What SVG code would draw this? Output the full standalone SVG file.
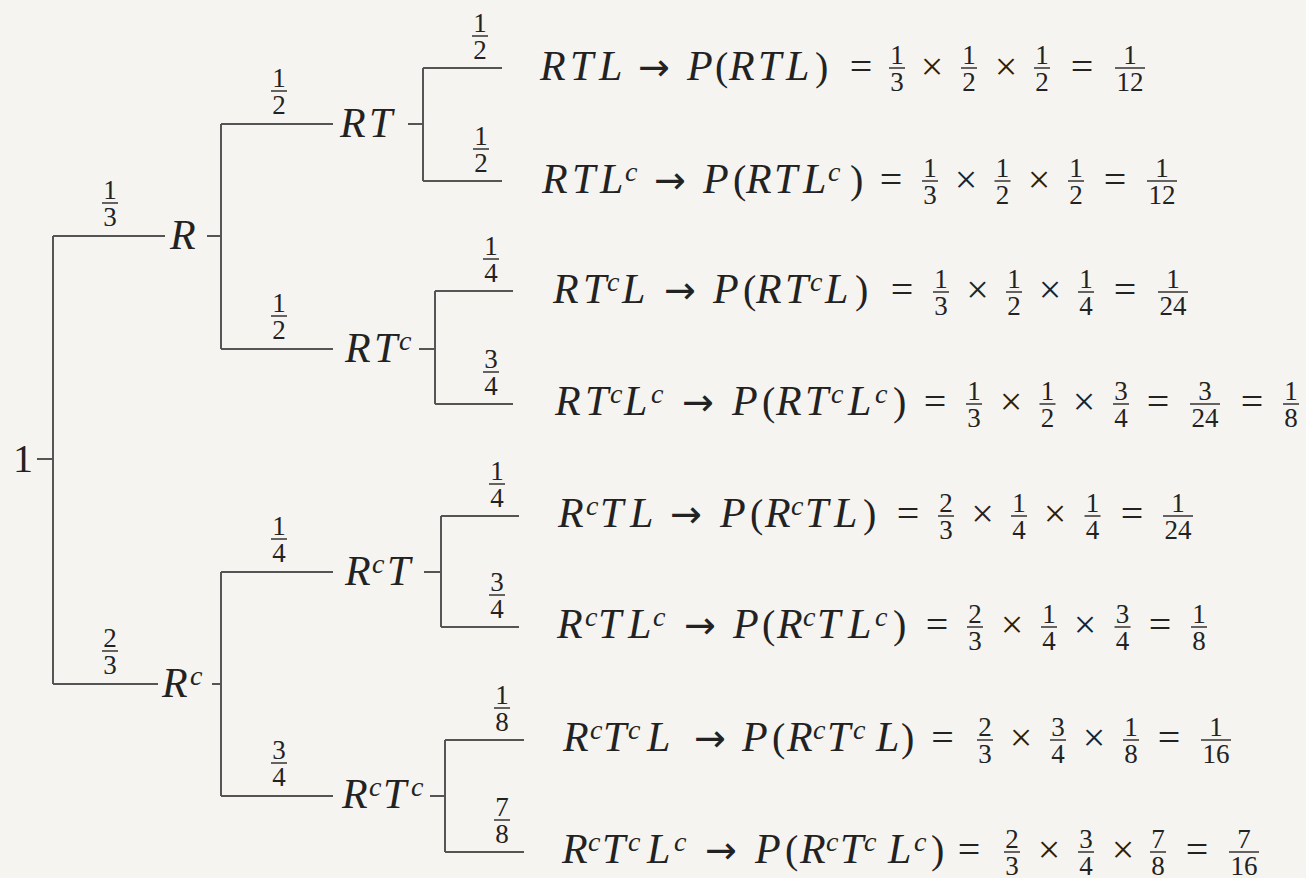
<svg xmlns="http://www.w3.org/2000/svg" width="1306" height="878" viewBox="0 0 1306 878">
<style>
text{fill:#222;font-family:"Liberation Serif","Times New Roman","DejaVu Serif",serif}
.m{font-size:42px;font-style:italic}
.u{font-size:40px}
.c{text-anchor:middle}
.ar{font-family:"DejaVu Sans",sans-serif;font-size:38px;text-anchor:middle}
.s{font-size:28px;font-style:italic}
.fr text{font-size:27px;text-anchor:middle}
.bar{stroke:#333;stroke-width:1.5}
#connectors path{fill:none;stroke:#555;stroke-width:2}
</style>
<defs>
<line id="b1" class="bar" x1="-8" y1="0" x2="8" y2="0" stroke="#333" stroke-width="1.5"/>
<line id="b2" class="bar" x1="-15" y1="0" x2="15" y2="0" stroke="#333" stroke-width="1.5"/>
</defs>
<rect width="1306" height="878" fill="#f5f4f0"/>

<g id="connectors">
<path d="M37 459H53M53 236V684M53 236H165M53 684H158"/>
<path d="M207 236H221M221 124V349M221 124H333M221 349H333"/>
<path d="M212 684H221M221 572V796M221 572H333M221 796H333"/>
<path d="M408 124H423M423 68V181M423 68H502M423 181H502"/>
<path d="M419 349H435M435 291V404M435 291H513M435 404H513"/>
<path d="M424 572H441M441 516V627M441 516H519M441 627H519"/>
<path d="M430 796H445M445 740V852M445 740H524M445 852H524"/>
</g>

<g id="edge-labels">
<g class="fr" transform="translate(110,203)"><text y="-4">1</text><use href="#b1"/><text y="23">3</text></g>
<g class="fr" transform="translate(110,651)"><text y="-4">2</text><use href="#b1"/><text y="23">3</text></g>
<g class="fr" transform="translate(279,91)"><text y="-4">1</text><use href="#b1"/><text y="23">2</text></g>
<g class="fr" transform="translate(279,316)"><text y="-4">1</text><use href="#b1"/><text y="23">2</text></g>
<g class="fr" transform="translate(279,539)"><text y="-4">1</text><use href="#b1"/><text y="23">4</text></g>
<g class="fr" transform="translate(279,763)"><text y="-4">3</text><use href="#b1"/><text y="23">4</text></g>
<g class="fr" transform="translate(480,36)"><text y="-4">1</text><use href="#b1"/><text y="23">2</text></g>
<g class="fr" transform="translate(481,149)"><text y="-4">1</text><use href="#b1"/><text y="23">2</text></g>
<g class="fr" transform="translate(491,259)"><text y="-4">1</text><use href="#b1"/><text y="23">4</text></g>
<g class="fr" transform="translate(491,372)"><text y="-4">3</text><use href="#b1"/><text y="23">4</text></g>
<g class="fr" transform="translate(497,484)"><text y="-4">1</text><use href="#b1"/><text y="23">4</text></g>
<g class="fr" transform="translate(497,595)"><text y="-4">3</text><use href="#b1"/><text y="23">4</text></g>
<g class="fr" transform="translate(502,708)"><text y="-4">1</text><use href="#b1"/><text y="23">8</text></g>
<g class="fr" transform="translate(502,820)"><text y="-4">7</text><use href="#b1"/><text y="23">8</text></g>
</g>

<g id="node-root"><text class="u" x="13" y="472">1</text></g>
<g id="node-R"><text class="m" x="170" y="249">R</text></g>
<g id="node-Rc"><text class="m" x="162" y="697">R</text><text class="s" x="190" y="685">c</text></g>
<g id="node-RT"><text class="m" x="340 369" y="137">RT</text></g>
<g id="node-RTc"><text class="m" x="345 374" y="362">RT</text><text class="s" x="399" y="350">c</text></g>
<g id="node-RcT"><text class="m" x="345 387" y="585">RT</text><text class="s" x="372" y="573">c</text></g>
<g id="node-RcTc"><text class="m" x="342 383" y="808">RT</text><text class="s" x="369 411" y="796">cc</text></g>

<g id="leaf-RTL">
<text class="m" x="540 570 599" y="80">RTL</text>
<text class="ar" x="654" y="80">→</text>
<text class="m" x="687" y="80">P</text><text class="u" x="715" y="80">(</text>
<text class="m" x="729 758 786" y="80">RTL</text><text class="u" x="815" y="80">)</text>
<text class="u c" x="861" y="80">=</text>
<g class="fr" transform="translate(897,68)"><text y="-4">1</text><use href="#b1"/><text y="23">3</text></g>
<text class="u c" x="932" y="80">×</text>
<g class="fr" transform="translate(969,68)"><text y="-4">1</text><use href="#b1"/><text y="23">2</text></g>
<text class="u c" x="1006" y="80">×</text>
<g class="fr" transform="translate(1042,68)"><text y="-4">1</text><use href="#b1"/><text y="23">2</text></g>
<text class="u c" x="1082" y="80">=</text>
<g class="fr" transform="translate(1130,68)"><text y="-4">1</text><use href="#b2"/><text y="23">12</text></g>
</g>

<g id="leaf-RTLc">
<text class="m" x="542 572 600" y="193">RTL</text><text class="s" x="625" y="181">c</text>
<text class="ar" x="670" y="193">→</text>
<text class="m" x="703" y="193">P</text><text class="u" x="733" y="193">(</text>
<text class="m" x="746 774 803" y="193">RTL</text><text class="s" x="828" y="181">c</text><text class="u" x="850" y="193">)</text>
<text class="u c" x="891" y="193">=</text>
<g class="fr" transform="translate(930,181)"><text y="-4">1</text><use href="#b1"/><text y="23">3</text></g>
<text class="u c" x="966" y="193">×</text>
<g class="fr" transform="translate(1002.5,181)"><text y="-4">1</text><use href="#b1"/><text y="23">2</text></g>
<text class="u c" x="1039" y="193">×</text>
<g class="fr" transform="translate(1076,181)"><text y="-4">1</text><use href="#b1"/><text y="23">2</text></g>
<text class="u c" x="1115" y="193">=</text>
<g class="fr" transform="translate(1162,181)"><text y="-4">1</text><use href="#b2"/><text y="23">12</text></g>
</g>

<g id="leaf-RTcL">
<text class="m" x="553 583 622" y="303">RTL</text><text class="s" x="607" y="291">c</text>
<text class="ar" x="680" y="303">→</text>
<text class="m" x="713" y="303">P</text><text class="u" x="743" y="303">(</text>
<text class="m" x="756 785 825" y="303">RTL</text><text class="s" x="810" y="291">c</text><text class="u" x="855" y="303">)</text>
<text class="u c" x="902" y="303">=</text>
<g class="fr" transform="translate(941,292)"><text y="-4">1</text><use href="#b1"/><text y="23">3</text></g>
<text class="u c" x="977.5" y="303">×</text>
<g class="fr" transform="translate(1014,292)"><text y="-4">1</text><use href="#b1"/><text y="23">2</text></g>
<text class="u c" x="1050" y="303">×</text>
<g class="fr" transform="translate(1086,292)"><text y="-4">1</text><use href="#b1"/><text y="23">4</text></g>
<text class="u c" x="1125" y="303">=</text>
<g class="fr" transform="translate(1173,292)"><text y="-4">1</text><use href="#b2"/><text y="23">24</text></g>
</g>

<g id="leaf-RTcLc">
<text class="m" x="555 585 624" y="415">RTL</text><text class="s" x="610 651" y="403">cc</text>
<text class="ar" x="698" y="415">→</text>
<text class="m" x="732" y="415">P</text><text class="u" x="762" y="415">(</text>
<text class="m" x="776 805 848" y="415">RTL</text><text class="s" x="831 875" y="403">cc</text><text class="u" x="893" y="415">)</text>
<text class="u c" x="935" y="415">=</text>
<g class="fr" transform="translate(974,404)"><text y="-4">1</text><use href="#b1"/><text y="23">3</text></g>
<text class="u c" x="1011" y="415">×</text>
<g class="fr" transform="translate(1047.5,404)"><text y="-4">1</text><use href="#b1"/><text y="23">2</text></g>
<text class="u c" x="1084" y="415">×</text>
<g class="fr" transform="translate(1121,404)"><text y="-4">3</text><use href="#b1"/><text y="23">4</text></g>
<text class="u c" x="1158" y="415">=</text>
<g class="fr" transform="translate(1205,404)"><text y="-4">3</text><use href="#b2"/><text y="23">24</text></g>
<text class="u c" x="1252" y="415">=</text>
<g class="fr" transform="translate(1291,404)"><text y="-4">1</text><use href="#b1"/><text y="23">8</text></g>
</g>

<g id="leaf-RcTL">
<text class="m" x="558 600 630" y="527">RTL</text><text class="s" x="586" y="515">c</text>
<text class="ar" x="686" y="527">→</text>
<text class="m" x="720" y="527">P</text><text class="u" x="750" y="527">(</text>
<text class="m" x="765 805 834" y="527">RTL</text><text class="s" x="791" y="515">c</text><text class="u" x="863" y="527">)</text>
<text class="u c" x="908" y="527">=</text>
<g class="fr" transform="translate(946,516)"><text y="-4">2</text><use href="#b1"/><text y="23">3</text></g>
<text class="u c" x="982.5" y="527">×</text>
<g class="fr" transform="translate(1019,516)"><text y="-4">1</text><use href="#b1"/><text y="23">4</text></g>
<text class="u c" x="1055" y="527">×</text>
<g class="fr" transform="translate(1092.5,516)"><text y="-4">1</text><use href="#b1"/><text y="23">4</text></g>
<text class="u c" x="1132" y="527">=</text>
<g class="fr" transform="translate(1178,516)"><text y="-4">1</text><use href="#b2"/><text y="23">24</text></g>
</g>

<g id="leaf-RcTLc">
<text class="m" x="557 598 628" y="638">RTL</text><text class="s" x="585 653" y="626">cc</text>
<text class="ar" x="700" y="638">→</text>
<text class="m" x="733" y="638">P</text><text class="u" x="762" y="638">(</text>
<text class="m" x="777 817 848" y="638">RTL</text><text class="s" x="803 875" y="626">cc</text><text class="u" x="893" y="638">)</text>
<text class="u c" x="937" y="638">=</text>
<g class="fr" transform="translate(975,627)"><text y="-4">2</text><use href="#b1"/><text y="23">3</text></g>
<text class="u c" x="1012" y="638">×</text>
<g class="fr" transform="translate(1049,627)"><text y="-4">1</text><use href="#b1"/><text y="23">4</text></g>
<text class="u c" x="1085" y="638">×</text>
<g class="fr" transform="translate(1122.5,627)"><text y="-4">3</text><use href="#b1"/><text y="23">4</text></g>
<text class="u c" x="1160" y="638">=</text>
<g class="fr" transform="translate(1199,627)"><text y="-4">1</text><use href="#b1"/><text y="23">8</text></g>
</g>

<g id="leaf-RcTcL">
<text class="m" x="563 603 647" y="751">RTL</text><text class="s" x="590 628" y="739">cc</text>
<text class="ar" x="710" y="751">→</text>
<text class="m" x="742" y="751">P</text><text class="u" x="772" y="751">(</text>
<text class="m" x="787 827 876" y="751">RTL</text><text class="s" x="813 853" y="739">cc</text><text class="u" x="901" y="751">)</text>
<text class="u c" x="942.5" y="751">=</text>
<g class="fr" transform="translate(985,740)"><text y="-4">2</text><use href="#b1"/><text y="23">3</text></g>
<text class="u c" x="1021" y="751">×</text>
<g class="fr" transform="translate(1058,740)"><text y="-4">3</text><use href="#b1"/><text y="23">4</text></g>
<text class="u c" x="1094" y="751">×</text>
<g class="fr" transform="translate(1131,740)"><text y="-4">1</text><use href="#b1"/><text y="23">8</text></g>
<text class="u c" x="1169" y="751">=</text>
<g class="fr" transform="translate(1216,740)"><text y="-4">1</text><use href="#b2"/><text y="23">16</text></g>
</g>

<g id="leaf-RcTcLc">
<text class="m" x="562 602 647" y="863">RTL</text><text class="s" x="588 628 674" y="851">ccc</text>
<text class="ar" x="721" y="863">→</text>
<text class="m" x="755" y="863">P</text><text class="u" x="785" y="863">(</text>
<text class="m" x="800 840 888" y="863">RTL</text><text class="s" x="826 864 914" y="851">ccc</text><text class="u" x="931" y="863">)</text>
<text class="u c" x="969" y="863">=</text>
<g class="fr" transform="translate(1012,852)"><text y="-4">2</text><use href="#b1"/><text y="23">3</text></g>
<text class="u c" x="1049" y="863">×</text>
<g class="fr" transform="translate(1086,852)"><text y="-4">3</text><use href="#b1"/><text y="23">4</text></g>
<text class="u c" x="1123" y="863">×</text>
<g class="fr" transform="translate(1158,852)"><text y="-4">7</text><use href="#b1"/><text y="23">8</text></g>
<text class="u c" x="1197" y="863">=</text>
<g class="fr" transform="translate(1244,852)"><text y="-4">7</text><use href="#b2"/><text y="23">16</text></g>
</g>
</svg>
